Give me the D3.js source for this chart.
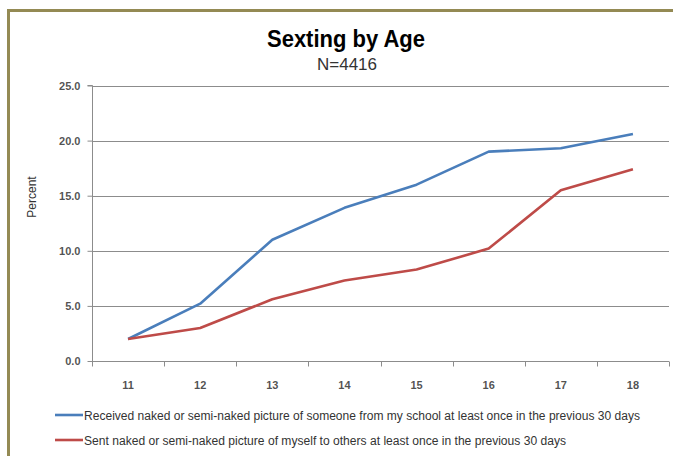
<!DOCTYPE html>
<html><head><meta charset="utf-8">
<script src="https://cdn.jsdelivr.net/npm/d3@7"></script>
<style>html,body{margin:0;padding:0;background:#fff;}svg{display:block;}</style>
</head><body>
<svg id="c" width="673" height="456"></svg>
<script>
const ages = ["11","12","13","14","15","16","17","18"];
const received = [2.0, 5.2, 11.0, 13.9, 16.0, 19.0, 19.3, 20.6];
const sent = [2.0, 3.0, 5.6, 7.3, 8.3, 10.2, 15.5, 17.4];
const yTicks = [0, 5, 10, 15, 20, 25];
const seriesNames = [
  "Received naked or semi-naked picture of someone from my school at least once in the previous 30 days",
  "Sent naked or semi-naked picture of myself to others at least once in the previous 30 days"
];
const colors = ["#4A7EBB", "#BE4B48"];

const svg = d3.select("#c");
const font = "'Liberation Sans', Arial, sans-serif";

// border (chart area frame, cropped at right/bottom)
svg.append("path").attr("d", "M8.5,470 L8.5,10.5 L700,10.5")
  .attr("fill", "none").attr("stroke", "#948A54").attr("stroke-width", 3);

const x0 = 92, x1 = 669, yTop = 85.5, yBot = 361;
const x = d3.scaleBand().domain(ages).range([x0, x1]);
const y = d3.scaleLinear().domain([0, 25]).range([yBot, yTop]);

// gridlines
svg.append("g").selectAll("line").data(yTicks.filter(d => d > 0)).join("line")
  .attr("x1", x0).attr("x2", x1)
  .attr("y1", d => Math.round(y(d)) + 0.5).attr("y2", d => Math.round(y(d)) + 0.5)
  .attr("stroke", "#8c8c8c").attr("stroke-width", 1);

// y axis
const ya = svg.append("g").attr("transform", `translate(${x0 + 0.5},0)`)
  .call(d3.axisLeft(y).tickValues(yTicks).tickSize(5).tickPadding(7).tickFormat(d3.format(".1f")));
ya.select(".domain").attr("stroke", "#8c8c8c").attr("d", `M-5,${yTop}H0V${yBot}`);
ya.selectAll(".tick line").attr("stroke", "#8c8c8c");
ya.selectAll(".tick text").attr("font-family", font).attr("font-size", 11).attr("fill", "#333").attr("font-weight", "bold").attr("fill-opacity", 0.85);

// x axis
const xa = svg.append("g").attr("transform", `translate(0,${Math.round(yBot) + 0.5})`)
  .call(d3.axisBottom(x).tickSize(0).tickPadding(20));
xa.select(".domain").attr("stroke", "#8c8c8c").attr("d", `M${x0},0H${x1}`);
xa.selectAll(".tick text").attr("font-family", font).attr("font-size", 11).attr("fill", "#333").attr("font-weight", "bold").attr("fill-opacity", 0.85);
// tick marks at category boundaries
const bounds = ages.map(a => x(a)).concat([x1]);
xa.append("g").selectAll("line").data(bounds).join("line")
  .attr("x1", d => Math.round(d) + 0.5).attr("x2", d => Math.round(d) + 0.5)
  .attr("y1", 0).attr("y2", 5).attr("stroke", "#8c8c8c");

// y axis title
svg.append("text").attr("transform", "translate(36,197) rotate(-90)")
  .attr("text-anchor", "middle").attr("font-family", font).attr("font-size", 12).attr("fill", "#333")
  .text("Percent");

// lines
const line = d3.line().x((d, i) => x(ages[i]) + x.bandwidth() / 2).y(d => y(d));
[received, sent].forEach((s, i) => {
  svg.append("path").datum(s).attr("d", line).attr("fill", "none")
    .attr("stroke", colors[i]).attr("stroke-width", 2.6).attr("stroke-linejoin", "round");
});

// title
svg.append("text").attr("x", 346).attr("y", 47).attr("text-anchor", "middle")
  .attr("font-family", font).attr("font-size", 23).attr("font-weight", "bold").attr("fill", "#000")
  .attr("textLength", 158).attr("lengthAdjust", "spacingAndGlyphs")
  .text("Sexting by Age");
svg.append("text").attr("x", 347).attr("y", 70).attr("text-anchor", "middle")
  .attr("font-family", font).attr("font-size", 16).attr("fill", "#333")
  .attr("textLength", 60).attr("lengthAdjust", "spacingAndGlyphs")
  .text("N=4416");

// legend
const legLens = [556, 482];
seriesNames.forEach((n, i) => {
  const ly = 415 + i * 25;
  svg.append("line").attr("x1", 55).attr("x2", 83).attr("y1", ly).attr("y2", ly)
    .attr("stroke", colors[i]).attr("stroke-width", 2.6);
  svg.append("text").attr("x", 84).attr("y", ly + 4.5)
    .attr("font-family", font).attr("font-size", 12).attr("fill", "#333")
    .attr("textLength", legLens[i]).attr("lengthAdjust", "spacingAndGlyphs")
    .text(n);
});
</script>
</body></html>
